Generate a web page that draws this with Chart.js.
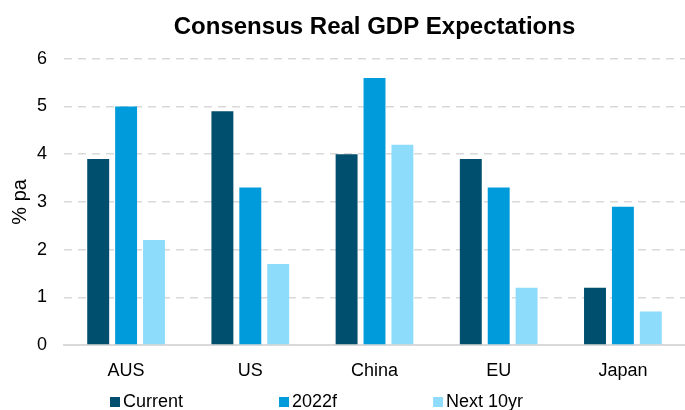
<!DOCTYPE html>
<html>
<head>
<meta charset="utf-8">
<script src="https://cdn.jsdelivr.net/npm/chart.js@4"></script>
<style>
  html, body { margin: 0; padding: 0; background: #fff; }
  #wrap { width: 685px; height: 410px; }
</style>
</head>
<body>
<div id="wrap"><canvas id="gdpCanvas"></canvas></div>
<script>
const regions = ["AUS", "US", "China", "EU", "Japan"]
const current = [3.9, 4.9, 4.0, 3.9, 1.2]
const forecast2022 = [5.0, 3.3, 5.6, 3.3, 2.9]
const next10yr = [2.2, 1.7, 4.2, 1.2, 0.7]

const fontFamily = "'Liberation Sans', Arial, sans-serif"

// legend along the bottom, items spaced wide apart
const wideLegend = {
    id: "wideLegend",
    afterDraw(chart) {
        const ctx = chart.ctx
        const gap = 96
        const box = 10
        const y = 402
        ctx.save()
        ctx.font = "18px " + fontFamily
        ctx.textBaseline = "middle"
        let x = 110
        chart.data.datasets.forEach(ds => {
            ctx.fillStyle = ds.backgroundColor
            ctx.fillRect(x, y - box / 2, box, box)
            ctx.fillStyle = "#000"
            ctx.fillText(ds.label, x + box + 3, y)
            x += box + 3 + ctx.measureText(ds.label).width + gap
        })
        ctx.restore()
    }
}

const gdpCanvas = document.getElementById("gdpCanvas")

const gdpChart = new Chart(gdpCanvas, {
    type: "bar",
    data: {
        labels: regions,
        datasets: [
            { label: "Current", data: current, backgroundColor: "#004f6e" },
            { label: "2022f", data: forecast2022, backgroundColor: "#009bda" },
            { label: "Next 10yr", data: next10yr, backgroundColor: "#8edcfc" }
        ]
    },
    options: {
        responsive: true,
        maintainAspectRatio: false,
        animation: false,
        categoryPercentage: 0.674,
        barPercentage: 0.786,
        layout: { padding: { top: 13, right: 0, bottom: 28, left: 0 } },
        plugins: {
            title: {
                display: true,
                text: "Consensus Real GDP Expectations",
                fullSize: false,
                color: "#000",
                font: { family: fontFamily, size: 24, weight: "bold" },
                padding: { top: 0, bottom: 17 }
            },
            legend: { display: false },
            tooltip: { enabled: false }
        },
        scales: {
            x: {
                grid: { display: false, drawTicks: false },
                border: { color: "#d9d9d9", width: 2 },
                ticks: { color: "#000", font: { family: fontFamily, size: 18 }, padding: 15 },
                afterFit(scale) { scale.height = 37 }
            },
            y: {
                min: 0,
                max: 6,
                ticks: { stepSize: 1, color: "#000", font: { family: fontFamily, size: 18 }, padding: 17 },
                grid: { color: "#d9d9d9", lineWidth: 1.5, drawTicks: false },
                border: { display: false, dash: [8, 6] },
                title: {
                    display: true,
                    text: "% pa",
                    color: "#000",
                    font: { family: fontFamily, size: 20 },
                    padding: { top: 8, bottom: 0 }
                },
                afterFit(scale) { scale.width = 64 }
            }
        }
    },
    plugins: [wideLegend]
})
</script>
</body>
</html>
